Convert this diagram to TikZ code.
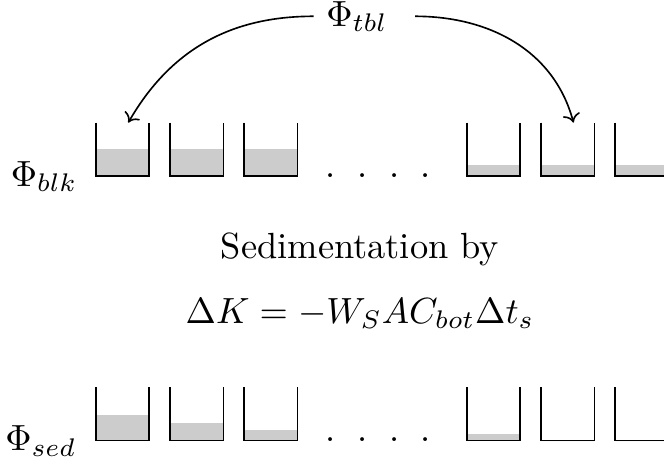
\documentclass[tikz,border=0pt]{standalone}
\usetikzlibrary{calc,arrows.meta}
\tikzset{
  tank/.style={minimum width=14.7pt, minimum height=14.7pt, inner sep=0pt, outer sep=0pt},
  liquid/.style={fill=black!20},
  wall/.style={line width=0.45pt, line join=miter},
  lbl/.style={inner sep=0pt, anchor=base east},
  ctext/.style={inner sep=0pt, anchor=base},
  dotlbl/.style={inner sep=0pt, anchor=base},
  flux/.style={-{Computer Modern Rightarrow[length=2.4pt, width=4.8pt]}, line width=0.45pt},
}
\newcommand\mytank[4]{%
  \node[tank] (#1) at (#2,#3) {};
  \fill[liquid] (#1.south west) rectangle ($(#1.south east)+(0,-#4)$);
  \draw[wall] (#1.north west) -- (#1.south west) -- (#1.south east) -- (#1.north east);
}
\begin{document}
\begin{tikzpicture}[x=0.2747pt, y=-0.2747pt]
\useasboundingbox (0,0) rectangle (664,462);
\clip (0,0) rectangle (664,462);
% top row
\mytank{t1}{122.45}{149.35}{26.7}
\mytank{t2}{196.65}{149.35}{26.7}
\mytank{t3}{270.85}{149.35}{26.7}
\mytank{t4}{493.45}{149.35}{11}
\mytank{t5}{567.65}{149.35}{11}
\mytank{t6}{641.85}{149.35}{11}
\node[dotlbl] (td1) at (330.1,177) {.};
\node[dotlbl] (td2) at (362.3,177) {.};
\node[dotlbl] (td3) at (394.1,177) {.};
\node[dotlbl] (td4) at (425.8,177) {.};
\node[lbl] (blk) at (78,186) {$\Phi_{blk}$};
% bottom row
\mytank{b1}{122.45}{413.85}{26}
\mytank{b2}{196.65}{413.85}{17.4}
\mytank{b3}{270.85}{413.85}{10.7}
\mytank{b4}{493.45}{413.85}{7}
\mytank{b5}{567.65}{413.85}{0}
\mytank{b6}{641.85}{413.85}{0}
\node[dotlbl] (bd1) at (330.1,441.5) {.};
\node[dotlbl] (bd2) at (362.3,441.5) {.};
\node[dotlbl] (bd3) at (394.1,441.5) {.};
\node[dotlbl] (bd4) at (425.8,441.5) {.};
\node[lbl] (sed) at (77,450.7) {$\Phi_{sed}$};
% middle text
\node[ctext] (txt) at (360,258) {Sedimentation by};
\node[ctext] (eq) at (360,323) {$\Delta K = -W_S A C_{bot} \Delta t_s$};
% top flux
\node[ctext, inner sep=3.33pt] (tbl) at (357,26) {$\Phi_{tbl}$};
\draw[flux] (tbl.west) to[out=180, in=60] ([xshift=1.6pt]t1.north);
\draw[flux] ([xshift=4pt]tbl.east) to[out=0, in=105] ([xshift=1.6pt]t5.north);
\end{tikzpicture}
\end{document}
